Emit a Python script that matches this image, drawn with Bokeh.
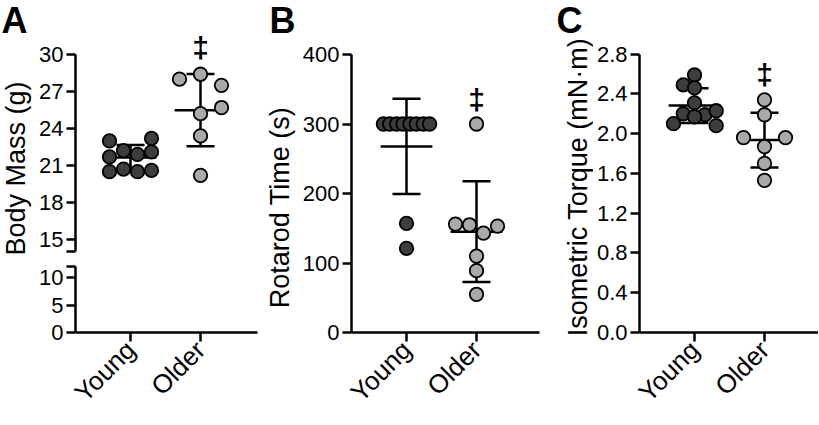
import math
import numpy as np
from bokeh.plotting import figure
from bokeh.layouts import row, column
from bokeh.models import FixedTicker, Range1d, NumeralTickFormatter
from bokeh.core.properties import value
from bokeh.embed import file_html
from bokeh.resources import INLINE

# ---------------- data ----------------
groups = ["Young", "Older"]
group_pos = [1, 2]

mass_young = [23.0, 23.2, 22.2, 21.9, 21.7, 22.1, 20.5, 20.7, 20.5, 20.6]
mass_older = [28.0, 28.4, 27.5, 25.7, 25.2, 23.4, 20.2]
rotarod_young = [300, 300, 300, 300, 300, 300, 300, 300, 157, 121]
rotarod_older = [300, 156, 155, 143, 153, 110, 89, 55]
torque_young = [2.59, 2.49, 2.46, 2.31, 2.20, 2.19, 2.17, 2.23, 2.10, 2.08]
torque_older = [2.34, 2.19, 1.96, 1.96, 1.87, 1.70, 1.53]

# horizontal scatter (beeswarm) offsets, in category units
mass_young_jit = [-0.3, 0.3, -0.1, 0.1, -0.3, 0.3, -0.3, -0.1, 0.1, 0.3]
mass_older_jit = [-0.3, 0.0, 0.3, 0.3, 0.0, 0.0, 0.0]
rotarod_young_jit = [-0.33, -0.24, -0.14, -0.05, 0.05, 0.14, 0.24, 0.33, 0.0, 0.0]
rotarod_older_jit = [0.0, -0.3, -0.1, 0.1, 0.3, 0.0, 0.0, 0.0]
torque_young_jit = [0.0, -0.16, 0.0, 0.0, -0.16, 0.15, 0.0, 0.31, -0.3, 0.31]
torque_older_jit = [0.0, 0.0, -0.3, 0.3, 0.0, 0.0, 0.0]

mass_ticks_upper = [14, 15, 18, 21, 24, 27, 30]
mass_ticks_lower = [0, 5, 10, 12]
rotarod_ticks = [0, 100, 200, 300, 400]
torque_ticks = [0.0, 0.4, 0.8, 1.2, 1.6, 2.0, 2.4, 2.8]

sig_symbol = "\u2021"
sig_mass = 30.57
sig_rotarod = 335
sig_torque = 2.59

panel_letters = ["A", "B", "C"]
y_titles = ["Body Mass (g)", "Rotarod Time (s)", "Isometric Torque (mN\u00b7m)"]

# ---------------- style ----------------
FONT = "Liberation Sans"
YOUNG_FILL = "#3d3d3d"
OLDER_FILL = "#a9a9a9"
LW = 2.5
PX_PER_CAT = 70.0
X0 = 1 - 55 / PX_PER_CAT
H = 420          # total height of every column
AXIS_Y = 332     # pixel row of the x axes
BOTTOM = H - AXIS_Y


def style_axes(p, x_visible=True):
    for ax in p.yaxis:
        ax.axis_line_width = LW
        ax.major_tick_line_width = LW
        ax.major_tick_out = 9
        ax.major_tick_in = 0
        ax.minor_tick_line_color = None
        ax.major_label_text_font = FONT
        ax.major_label_text_font_size = "22px"
        ax.major_label_text_color = "black"
        ax.major_label_standoff = 3
    if x_visible:
        for ax in p.xaxis:
            ax.axis_line_width = LW
            ax.major_tick_line_width = LW
            ax.major_tick_out = 9
            ax.major_tick_in = 0
            ax.minor_tick_line_color = None
            ax.ticker = FixedTicker(ticks=group_pos)
            ax.major_label_overrides = {k: v for k, v in zip(group_pos, groups)}
            ax.major_label_text_font = FONT
            ax.major_label_text_font_size = "26px"
            ax.major_label_text_color = "black"
            ax.major_label_orientation = math.pi / 4
            ax.major_label_standoff = 4


def make_fig(frame_w, frame_h, y0, y1, bl, br, bt, bb, x_axis=True):
    p = figure(frame_width=frame_w, frame_height=frame_h,
               x_range=Range1d(X0, X0 + frame_w / PX_PER_CAT),
               y_range=Range1d(y0, y1),
               output_backend="svg", toolbar_location=None,
               x_axis_location="below" if x_axis else None,
               min_border_left=bl, min_border_right=br,
               min_border_top=bt, min_border_bottom=bb)
    p.grid.visible = False
    p.outline_line_color = None
    style_axes(p, x_axis)
    return p


def draw_group(p, xc, vals, jit, fill):
    m = float(np.mean(vals))
    s = float(np.std(vals, ddof=1))
    kw = dict(line_color="black", line_width=LW)
    p.segment(x0=[xc - 0.37], y0=[m], x1=[xc + 0.37], y1=[m], **kw)
    p.segment(x0=[xc], y0=[m - s], x1=[xc], y1=[m + s], **kw)
    p.segment(x0=[xc - 0.2, xc - 0.2], y0=[m - s, m + s],
              x1=[xc + 0.2, xc + 0.2], y1=[m - s, m + s], **kw)
    p.scatter(x=[xc + j for j in jit], y=vals, size=13.5, fill_color=fill,
              line_color="black", line_width=1.8)


def sig(p, x, y):
    p.text(x=[x], y=[y], text=[sig_symbol], text_font=value(FONT),
           text_font_style="bold", text_font_size="30px", text_color="black",
           text_align="center", text_baseline="middle")


def annot_fig(w, letter, letter_x, title, title_x, title_y):
    """Narrow strip left of a panel holding the panel letter and y-axis title
    (pixel coordinates, y measured from the top)."""
    p = figure(frame_width=w, frame_height=H, x_range=Range1d(0, w),
               y_range=Range1d(0, H), output_backend="svg",
               toolbar_location=None, x_axis_location=None,
               y_axis_location=None, min_border=0)
    p.grid.visible = False
    p.outline_line_color = None
    p.text(x=[letter_x], y=[H - 20], text=[letter], text_font=value(FONT),
           text_font_style="bold", text_font_size="36px", text_color="black",
           text_align="left", text_baseline="middle")
    p.text(x=[title_x], y=[H - title_y], text=[title], angle=math.pi / 2,
           text_font=value(FONT), text_font_size="27px", text_color="black",
           text_align="center", text_baseline="middle")
    return column(p, spacing=0)


# ---------------- panel A (broken axis) ----------------
ann_a = annot_fig(36, panel_letters[0], 1, y_titles[0], 15, 168)

a_ppu_up = 185 / 15.0
a_up = make_fig(182, 228, 30 - 200 / a_ppu_up, 30 + 28 / a_ppu_up, 38, 6, 26, 0, x_axis=False)
a_up.yaxis.bounds = (14, 30)
a_up.yaxis.ticker = FixedTicker(ticks=mass_ticks_upper)
a_up.yaxis.major_label_overrides = {14: ""}
draw_group(a_up, group_pos[0], mass_young, mass_young_jit, YOUNG_FILL)
draw_group(a_up, group_pos[1], mass_older, mass_older_jit, OLDER_FILL)
sig(a_up, group_pos[1], sig_mass)

a_ppu_low = 5.5
a_low = make_fig(182, 74, 0, 74 / a_ppu_low, 38, 6, 4, BOTTOM)
a_low.yaxis.bounds = (0, 12)
a_low.yaxis.ticker = FixedTicker(ticks=mass_ticks_lower)
a_low.yaxis.major_label_overrides = {12: ""}

panel_a = column(a_up, a_low, spacing=0)

# ---------------- panel B ----------------
ann_b = annot_fig(34, panel_letters[1], 6, y_titles[1], 16.5, 207)

b_ppu = 278 / 400.0
pb = make_fig(188, 292, 0, 292 / b_ppu, 54, 12, 40, BOTTOM)
pb.yaxis.bounds = (0, 400)
pb.yaxis.ticker = FixedTicker(ticks=rotarod_ticks)
draw_group(pb, group_pos[0], rotarod_young, rotarod_young_jit, YOUNG_FILL)
draw_group(pb, group_pos[1], rotarod_older, rotarod_older_jit, OLDER_FILL)
sig(pb, group_pos[1], sig_rotarod)

# ---------------- panel C ----------------
ann_c = annot_fig(42, panel_letters[2], 5, y_titles[2], 26.5, 186.5)

c_ppu = 278.4 / 2.8
pc = make_fig(179, 292, 0, 292 / c_ppu, 46, 0, 40, BOTTOM)
pc.yaxis.bounds = (0, 2.8)
pc.yaxis.ticker = FixedTicker(ticks=torque_ticks)
pc.yaxis.formatter = NumeralTickFormatter(format="0.0")
draw_group(pc, group_pos[0], torque_young, torque_young_jit, YOUNG_FILL)
draw_group(pc, group_pos[1], torque_older, torque_older_jit, OLDER_FILL)
sig(pc, group_pos[1], sig_torque)

layout = row(ann_a, panel_a, ann_b, pb, ann_c, pc, spacing=0)

open("out.html", "w").write(file_html(layout, INLINE))
